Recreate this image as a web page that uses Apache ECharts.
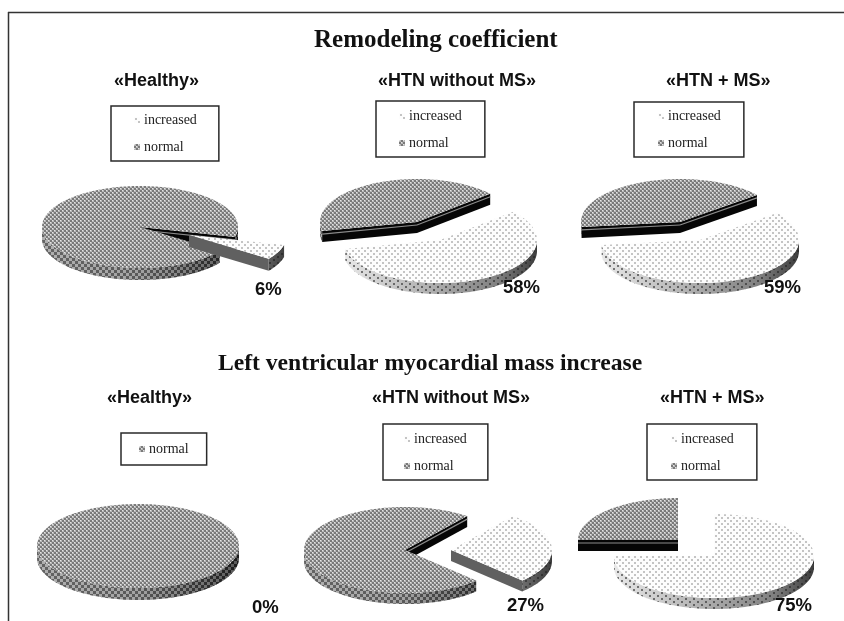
<!DOCTYPE html>
<html>
<head>
<meta charset="utf-8">
<title>Remodeling coefficient</title>
<script src="https://cdn.jsdelivr.net/npm/echarts@6/dist/echarts.min.js"></script>
<style>
html,body{margin:0;padding:0;background:#fff}
#main{width:844px;height:621px;filter:blur(0.45px)}
</style>
</head>
<body>
<div id="main"></div>
<script>
// values (percent)
var groupNames = ['«Healthy»', '«HTN without MS»', '«HTN + MS»'];
var sliceNames = ['increased', 'normal'];
var remodelingIncreased = [6, 58, 59];
var remodelingNormal = [94, 42, 41];
var massIncreased = [0, 27, 75];
var massNormal = [100, 73, 25];
var sectionTitles = ['Remodeling coefficient', 'Left ventricular myocardial mass increase'];

// layout of the six pies, top row then bottom row
var pies = [
	{cx: 140, cy: 227, rx: 98, ry: 41, depth: 12, start: -14, off: [49, 8]},
	{cx: 417, cy: 222, rx: 97, ry: 43, depth: 11, start: 41, off: [23, 18]},
	{cx: 680, cy: 222, rx: 99, ry: 43, depth: 11, start: 39, off: [20, 18]},
	{cx: 138, cy: 546, rx: 101, ry: 42, depth: 12, start: 0, off: [0, 0]},
	{cx: 405, cy: 550, rx: 101, ry: 43, depth: 11, start: 52, off: [46, 0]},
	{cx: 678, cy: 540, rx: 100, ry: 42, depth: 11, start: 90, off: [36, 16]}
];
var legendBoxes = [
	{left: 111, top: 106, w: 109, h: 55},
	{left: 376, top: 101, w: 110, h: 56},
	{left: 634, top: 102, w: 111, h: 55},
	{left: 121, top: 433, w: 88, h: 32},
	{left: 383, top: 424, w: 106, h: 56},
	{left: 647, top: 424, w: 111, h: 56}
];
var headPos = [[114, 72], [378, 72], [666, 72], [107, 389], [372, 389], [660, 389]];
var pctPos = [[255, 280], [503, 278], [764, 278], [252, 598], [507, 596], [775, 596]];

function tile(w, h, draw) {
	var c = document.createElement('canvas');
	c.width = w;
	c.height = h;
	draw(c.getContext('2d'));
	return {image: c, repeat: 'repeat'};
}
var checkFill = tile(4, 4, function (g) {
	g.fillStyle = '#7a7a7a';
	g.fillRect(0, 0, 4, 4);
	g.fillStyle = '#b9b9b9';
	g.fillRect(0, 0, 2, 2);
	g.fillRect(2, 2, 2, 2);
	g.fillStyle = '#e4e4e4';
	g.fillRect(0, 0, 1, 1);
	g.fillRect(2, 2, 1, 1);
});
var dotFill = tile(6, 6, function (g) {
	g.fillStyle = '#fdfdfd';
	g.fillRect(0, 0, 6, 6);
	g.fillStyle = '#c4c4c4';
	g.fillRect(1, 1, 2, 2);
	g.fillRect(4, 4, 2, 2);
});
var checkSide = tile(6, 6, function (g) {
	g.fillStyle = 'rgba(0,0,0,0.35)';
	g.fillRect(0, 0, 3, 3);
	g.fillRect(3, 3, 3, 3);
	g.fillStyle = 'rgba(255,255,255,0.22)';
	g.fillRect(3, 0, 3, 3);
	g.fillRect(0, 3, 3, 3);
});
var dotSide = tile(8, 6, function (g) {
	g.fillStyle = 'rgba(30,30,30,0.55)';
	g.fillRect(1, 1, 2, 2);
	g.fillRect(5, 4, 2, 2);
});

function rad(d) { return d * Math.PI / 180; }

// one pie slice in unit circle data space, the hidden axes squash it to an ellipse
function renderSlice(p, kind) {
	return function (params, api) {
		var value = api.value(0);
		if (!value) return {type: 'group', children: []};
		var sweep = value * 3.6;
		var a1 = kind === 'increased' ? p.start - sweep : p.start;
		var a2 = kind === 'increased' ? p.start : p.start + sweep;
		var dx = kind === 'increased' ? p.off[0] : 0;
		var dy = kind === 'increased' ? p.off[1] : 0;
		var pt = function (r, a, down) {
			var c = api.coord([r * Math.cos(rad(a)), r * Math.sin(rad(a))]);
			return [c[0] + dx, c[1] + dy + (down || 0)];
		};
		var children = [];
		var left = pt(1, 180)[0];
		var right = pt(1, 0)[0];
		var stops = kind === 'increased'
			? [{offset: 0, color: '#e8e8e8'}, {offset: 0.45, color: '#b0b0b0'}, {offset: 0.8, color: '#808080'}, {offset: 1, color: '#3c3c3c'}]
			: [{offset: 0, color: '#9a9a9a'}, {offset: 0.5, color: '#888'}, {offset: 1, color: '#2a2a2a'}];
		// outer wall, only the front half of the rim is seen
		for (var k = -1; k <= 1; k++) {
			var from = Math.max(a1, -180 + 360 * k);
			var to = Math.min(a2, 360 * k);
			if (to <= from) continue;
			var pts = [];
			for (var a = from; a < to; a += 1.5) pts.push(pt(1, a));
			pts.push(pt(1, to));
			for (var b = to; b > from; b -= 1.5) pts.push(pt(1, b, p.depth));
			pts.push(pt(1, from, p.depth));
			children.push({
				type: 'polygon',
				shape: {points: pts},
				style: {fill: new echarts.graphic.LinearGradient(left, 0, right, 0, stops, true)}
			});
			children.push({
				type: 'polygon',
				shape: {points: pts},
				style: {fill: kind === 'increased' ? dotSide : checkSide}
			});
		}
		// cut faces that look toward the viewer
		[[a1, Math.cos(rad(a1)) > 0.001], [a2, Math.cos(rad(a2)) < -0.001]].forEach(function (f) {
			if (sweep >= 360 || !f[1]) return;
			var o = pt(0, 0);
			var e = pt(1, f[0]);
			children.push({
				type: 'polygon',
				shape: {points: [o, e, [e[0], e[1] + p.depth], [o[0], o[1] + p.depth]]},
				style: {fill: kind === 'increased' ? '#606060' : '#060606'}
			});
			if (kind === 'normal') {
				children.push({
					type: 'line',
					shape: {x1: o[0], y1: o[1] + 3, x2: e[0], y2: e[1] + 3},
					style: {stroke: '#8c8c8c', lineWidth: 1.2}
				});
			}
		});
		// top surface
		var top = [];
		for (var t = a1; t < a2; t += 1.5) top.push(pt(1, t));
		top.push(pt(1, a2));
		if (sweep < 360) top.push(pt(0, 0));
		children.push({
			type: 'polygon',
			shape: {points: top},
			style: {fill: kind === 'increased' ? dotFill : checkFill}
		});
		return {type: 'group', children: children};
	};
}

var increasedValues = remodelingIncreased.concat(massIncreased);
var normalValues = remodelingNormal.concat(massNormal);

var grids = [], xAxes = [], yAxes = [], series = [], legends = [];
var titles = [
	{text: sectionTitles[0], left: 314, top: 28, padding: 0, textStyle: {fontFamily: 'Liberation Serif', fontSize: 25, fontWeight: 'bold', color: '#111'}},
	{text: sectionTitles[1], left: 218, top: 352, padding: 0, textStyle: {fontFamily: 'Liberation Serif', fontSize: 23.6, fontWeight: 'bold', color: '#111'}}
];

pies.forEach(function (p, i) {
	grids.push({left: p.cx - p.rx, top: p.cy - p.ry, width: 2 * p.rx, height: 2 * p.ry});
	xAxes.push({type: 'value', gridIndex: i, min: -1, max: 1, show: false});
	yAxes.push({type: 'value', gridIndex: i, min: -1, max: 1, show: false});
	series.push({
		type: 'custom', name: sliceNames[1], xAxisIndex: i, yAxisIndex: i,
		itemStyle: {color: '#777'},
		renderItem: renderSlice(p, 'normal'),
		data: [[normalValues[i], 0]]
	});
	series.push({
		type: 'custom', name: sliceNames[0], xAxisIndex: i, yAxisIndex: i,
		itemStyle: {color: '#ddd'},
		renderItem: renderSlice(p, 'increased'),
		data: [[increasedValues[i], 0]]
	});
	var names = increasedValues[i] ? sliceNames : [sliceNames[1]];
	var b = legendBoxes[i];
	var textWidth = increasedValues[i] ? 53 : 41;
	var padLeft = Math.round((b.w - textWidth - 11) / 2);
	var contentHeight = names.length === 2 ? 14 * 2 + 13 : 14;
	var padTop = Math.round((b.h - contentHeight) / 2);
	legends.push({
		left: b.left, top: b.top,
		orient: 'vertical', selectedMode: false,
		itemWidth: 6, itemHeight: 6, itemGap: 13,
		padding: [padTop, b.w - padLeft - textWidth - 11, b.h - contentHeight - padTop, padLeft],
		borderColor: '#2a2a2a', borderWidth: 1.5, backgroundColor: '#fff',
		textStyle: {fontFamily: 'Liberation Serif', fontSize: 14, color: '#222', padding: [0, 0, 0, -1]},
		data: names.map(function (n) {
			return {name: n, icon: 'rect', itemStyle: {color: n === 'normal' ? checkFill : dotFill}};
		})
	});
	titles.push({
		text: groupNames[i % 3], left: headPos[i][0], top: headPos[i][1], padding: 0,
		textStyle: {fontFamily: 'Liberation Sans', fontSize: 18, fontWeight: 'bold', color: '#111'}
	});
	titles.push({
		text: increasedValues[i] + '%', left: pctPos[i][0], top: pctPos[i][1], padding: 0,
		textStyle: {fontFamily: 'Liberation Sans', fontSize: 18.5, fontWeight: 'bold', color: '#111'}
	});
});

var myChart = echarts.init(document.getElementById('main'));
myChart.setOption({
	animation: false,
	backgroundColor: '#fff',
	title: titles,
	legend: legends,
	grid: grids,
	xAxis: xAxes,
	yAxis: yAxes,
	series: series,
	graphic: [
		{type: 'line', shape: {x1: 8, y1: 12.5, x2: 844, y2: 12.5}, style: {stroke: '#333', lineWidth: 1.5}},
		{type: 'line', shape: {x1: 8.5, y1: 12, x2: 8.5, y2: 621}, style: {stroke: '#333', lineWidth: 1.5}}
	]
});
</script>
</body>
</html>
